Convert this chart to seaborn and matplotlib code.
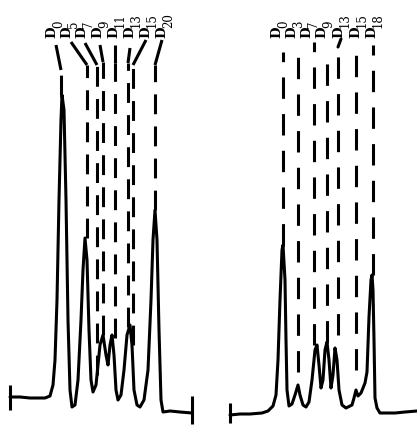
import matplotlib
matplotlib.use("Agg")
import matplotlib.pyplot as plt
import seaborn as sns
import pandas as pd

# ---------------- data ----------------
# left chromatogram: position / detector signal
left_x = [10, 20, 30, 45, 50, 53, 55, 57, 59, 61, 62, 64, 66, 68, 70, 72, 75, 78, 81, 83,
          85, 87, 89, 91, 93, 96, 98, 100, 103, 106, 108, 110, 112, 114, 116, 118, 121, 124,
          127, 130, 132, 134, 137, 140, 144, 148, 151, 153, 155, 157, 159, 161, 163, 170, 180, 192]
left_signal = [28, 28, 27, 27, 29, 40, 65, 125, 225, 305, 330, 315, 225, 105, 35, 18, 20, 45,
               105, 155, 187, 165, 95, 45, 33, 40, 60, 80, 90, 70, 60, 80, 90, 70, 35, 25, 30,
               55, 90, 100, 80, 35, 20, 18, 25, 55, 125, 185, 215, 185, 95, 25, 13, 14, 13, 12]
left_flags_x = [10, 192]
left_flags_low = [15, 1]
left_flags_high = [40, 29]

# component markers, left
left_names = ["D", "D", "D", "D", "D", "D", "D", "D"]
left_numbers = ["0", "5", "7", "9", "11", "13", "15", "20"]
left_label_x = [52, 67, 82, 98, 114, 130, 146, 162]
left_marker_x = [61, 87, 97, 103, 115, 128, 133, 155]
left_marker_top = [355, 360, 360, 363, 362, 362, 360, 360]
left_marker_bottom = [330, 187, 50, 90, 87, 98, 80, 215]
left_conn_x0 = [56, 71, 85, 100, 115, 130, 146, 162]
left_conn_y0 = [380, 383, 382, 380, 380, 377, 385, 385]

# right chromatogram
right_x = [230, 240, 250, 262, 268, 273, 276, 278, 280, 282, 283, 285, 286, 287, 289, 292, 295,
           298, 300, 303, 306, 309, 312, 315, 317, 319, 321, 323, 325, 327, 329, 331, 333, 335,
           337, 339, 342, 346, 350, 352, 354, 356, 358, 361, 363, 365, 367, 369, 371, 372, 373,
           374, 375, 377, 380, 384, 395, 405, 417]
right_signal = [10, 11, 11, 12, 14, 19, 30, 65, 125, 175, 180, 145, 85, 35, 19, 21, 30, 40, 30,
                20, 18, 23, 45, 75, 80, 60, 37, 45, 75, 83, 65, 37, 50, 77, 65, 35, 20, 17, 19,
                20, 27, 35, 29, 32, 37, 42, 53, 108, 145, 150, 135, 85, 27, 17, 12, 12, 12, 13, 14]
right_flags_x = [230]
right_flags_low = [2]
right_flags_high = [22]

right_names = ["D", "D", "D", "D", "D", "D", "D"]
right_numbers = ["0", "3", "7", "9", "13", "15", "18"]
right_label_x = [277, 292, 307, 322, 339, 356, 372]
right_marker_x = [283, 298, 314, 327, 338, 356, 373]
right_marker_top = [373, 373, 383, 375, 375, 378, 380]
right_marker_bottom = [180, 53, 80, 83, 90, 55, 150]

# ---------------- drawing ----------------
sns.set_style("white")
plt.rcParams["font.family"] = ["DejaVu Serif", "DejaVu Sans"]

fig = plt.figure(figsize=(4.17, 4.25), dpi=100)
ax1 = fig.add_axes([0, 0, 208 / 417, 1])
ax2 = fig.add_axes([208 / 417, 0, 209 / 417, 1])

LW = 2.2
ink = "black"


def panel(ax, xs, ys, fx, flo, fhi, names, nums, lx, mx, mtop, mbot, xlim, dash):
    df = pd.DataFrame({"x": xs, "signal": ys})
    sns.lineplot(data=df, x="x", y="signal", sort=False, estimator=None,
                 color=ink, lw=LW, ax=ax)
    ax.vlines(fx, flo, fhi, color=ink, lw=LW)
    ax.vlines(mx, mbot, mtop, color=ink, lw=LW, linestyles=[dash])
    for n, num, x in zip(names, nums, lx):
        ax.text(x, 387, n, rotation=90, ha="center", va="bottom",
                fontsize=9.5, color=ink, fontweight="bold")
        ax.text(x + 6.5, 397, num, rotation=90, ha="center", va="bottom",
                fontsize=8.5, color=ink)
    ax.set_xlim(*xlim)
    ax.set_ylim(0, 425)
    ax.axis("off")


panel(ax1, left_x, left_signal, left_flags_x, left_flags_low, left_flags_high,
      left_names, left_numbers, left_label_x, left_marker_x, left_marker_top,
      left_marker_bottom, (0, 208), (0, (6.5, 4.0)))
panel(ax2, right_x, right_signal, right_flags_x, right_flags_low, right_flags_high,
      right_names, right_numbers, right_label_x, right_marker_x, right_marker_top,
      right_marker_bottom, (208, 417), (0, (7.0, 5.0)))

# slanted connectors from the labels to the marker lines (left panel)
for x0, y0, x1, y1 in zip(left_conn_x0, left_conn_y0, left_marker_x, left_marker_top):
    ax1.plot([x0, x1], [y0, y1], color=ink, lw=LW, solid_capstyle="butt")

# short connector for D13 on the right
ax2.plot([341, 338], [386, 378], color=ink, lw=LW)

fig.savefig("out.png", dpi=100)
